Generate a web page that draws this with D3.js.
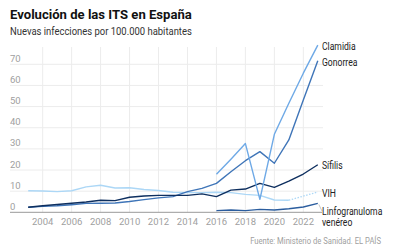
<!DOCTYPE html>
<html>
<head>
<meta charset="utf-8">
<title>ITS</title>
<script src="https://cdn.jsdelivr.net/npm/d3@7"></script>
<style>
  body { margin: 0; background: #fff; }
  text { font-family: Roboto, "Liberation Sans", sans-serif; }
</style>
</head>
<body>
<svg id="svg" width="412" height="248"></svg>
<script>
// datos
var years = d3.range(2003, 2024);
var yTicks = [0, 10, 20, 30, 40, 50, 60, 70];
var xTicks = [2004, 2006, 2008, 2010, 2012, 2014, 2016, 2018, 2020, 2022];

var clamidia = [null,null,null,null,null,null,null,null,null,null,null,null,null,
                18.0, 25.1, 32.5, 6.1, 36.9, 51.6, 65.8, 79.1];
var gonorrea = [2.4, 2.8, 3.1, 3.6, 4.2, 4.3, 4.4, 5.1, 6.0, 6.8, 7.4, 9.8, 11.3,
                13.7, 19.2, 24.4, 28.7, 23.2, 34.2, 53.1, 71.7];
var sifilis  = [2.4, 3.1, 3.7, 4.3, 4.9, 5.7, 5.5, 7.1, 7.7, 8.0, 8.0, 8.0, 8.7,
                7.4, 10.5, 11.0, 13.7, 11.8, 14.7, 18.1, 22.5];
var vih      = [10.2, 10.1, 9.8, 10.2, 12.0, 12.8, 11.5, 11.6, 10.8, 10.3, 9.5, 9.3, 9.3,
                9.5, 9.3, 8.5, 8.0, 5.8, 5.7, null, null];
var vihEstimado = [[2021, 5.7], [2023, 9.6]];
var linfo    = [null,null,null,null,null,null,null,null,null,null,null,null,null,
                0.8, 1.1, 0.8, 1.4, 1.1, 1.7, 2.5, 4.2];

var series = [
  {name: "VIH", values: vih, color: "#acd7f6"},
  {name: "Linfogranuloma", values: linfo, color: "#2b5d9e"},
  {name: "Gonorrea", values: gonorrea, color: "#3f75b8"},
  {name: "Sífilis", values: sifilis, color: "#0e2f5f"},
  {name: "Clamidia", values: clamidia, color: "#6ea9e6"}
];

var svg = d3.select("#svg");
var x = d3.scaleLinear().domain([2003, 2023]).range([28.2, 317.8]);
var y = d3.scaleLinear().domain([0, 70]).range([212.3, 64.3]);

// estrecha el texto (la fuente original es condensada)
function condense(sel, k) {
  sel.each(function(){
    var w = this.getComputedTextLength();
    d3.select(this).attr("textLength", w * k).attr("lengthAdjust", "spacingAndGlyphs");
  });
}

// titulos
svg.append("text").attr("x", 10).attr("y", 19)
  .attr("font-size", 13.5).attr("font-weight", "bold").attr("fill", "#111")
  .text("Evolución de las ITS en España")
  .call(condense, 0.97);
svg.append("text").attr("x", 10).attr("y", 35)
  .attr("font-size", 10.5).attr("fill", "#333")
  .text("Nuevas infecciones por 100.000 habitantes")
  .call(condense, 0.9);

// rejilla
var grid = svg.append("g");
grid.selectAll("line.h").data(yTicks.slice(1)).enter().append("line")
  .attr("x1", 10).attr("x2", 323)
  .attr("y1", function(d){ return y(d); }).attr("y2", function(d){ return y(d); })
  .attr("stroke", "#ececec").attr("stroke-width", 1);
grid.selectAll("line.v").data(xTicks).enter().append("line")
  .attr("x1", function(d){ return x(d); }).attr("x2", function(d){ return x(d); })
  .attr("y1", 47).attr("y2", y(0))
  .attr("stroke", "#ececec").attr("stroke-width", 1);

// etiquetas eje Y
svg.selectAll("text.yl").data(yTicks).enter().append("text")
  .attr("x", 10).attr("y", function(d){ return y(d) - 2.5; })
  .attr("font-size", 9.5).attr("fill", "#a0a0a0")
  .text(function(d){ return d; });

// etiquetas eje X
svg.selectAll("text.xl").data(xTicks).enter().append("text")
  .attr("x", function(d){ return x(d); }).attr("y", 225)
  .attr("text-anchor", "middle").attr("font-size", 9.5).attr("fill", "#a0a0a0")
  .text(function(d){ return d; });

// lineas
var line = d3.line()
  .defined(function(d){ return d[1] != null; })
  .x(function(d){ return x(d[0]); })
  .y(function(d){ return y(d[1]); });

svg.append("path")
  .attr("d", line(vihEstimado))
  .attr("fill", "none").attr("stroke", "#acd7f6").attr("stroke-width", 1.3)
  .attr("stroke-dasharray", "1.5,1.5");

series.forEach(function(s){
  svg.append("path")
    .attr("d", line(years.map(function(yr, i){ return [yr, s.values[i]]; })))
    .attr("fill", "none").attr("stroke", s.color).attr("stroke-width", 1.4)
    .attr("stroke-linejoin", "round");
});

// eje 0
svg.append("line").attr("x1", 10).attr("x2", 322).attr("y1", y(0)).attr("y2", y(0))
  .attr("stroke", "#999").attr("stroke-width", 1);

// guia linfogranuloma
svg.append("line").attr("x1", x(2023) + 1).attr("y1", y(4.2) + 1)
  .attr("x2", 322).attr("y2", 211)
  .attr("stroke", "#b8b8b8").attr("stroke-width", 0.8);

// etiquetas de series
var labels = [
  {t: "Clamidia", y: 49.5},
  {t: "Gonorrea", y: 65.5},
  {t: "Sífilis", y: 168.5},
  {t: "VIH", y: 196.5},
  {t: "Linfogranuloma", y: 215},
  {t: "venéreo", y: 225.5}
];
svg.selectAll("text.sl").data(labels).enter().append("text")
  .attr("x", 322).attr("y", function(d){ return d.y; })
  .attr("font-size", 10).attr("fill", "#222")
  .text(function(d){ return d.t; })
  .call(condense, 0.86);

// fuente
svg.append("text").attr("x", 381).attr("y", 243.5)
  .attr("text-anchor", "end").attr("font-size", 8.5).attr("fill", "#a0a0a0")
  .text("Fuente: Ministerio de Sanidad. EL PAÍS")
  .call(condense, 0.9);
</script>
</body>
</html>
